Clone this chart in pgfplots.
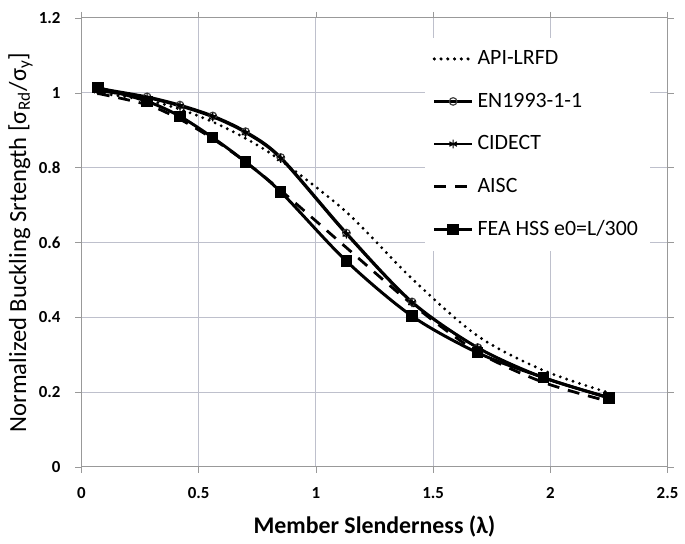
\documentclass[border=0pt]{standalone}
\usepackage{pgfplots}
\pgfplotsset{compat=1.18}
\usepackage{fontspec}
\setmainfont{Carlito}
\definecolor{gridc}{RGB}{190,192,204}
\begin{document}
\begin{tikzpicture}
\begin{axis}[
  scale only axis,
  width=295pt, height=226pt,
  xmin=0, xmax=2.5, ymin=0, ymax=1.2,
  xtick={0,0.5,1,1.5,2,2.5},
  ytick={0,0.2,0.4,0.6,0.8,1,1.2},
  grid=major,
  grid style={line width=0.5pt, color=gridc},
  axis line style={black!40, line width=0.5pt},
  tick style={black!40},
  major tick length=3pt,
  tick align=outside,
  /pgf/number format/assume math mode=true,
  ticklabel style={font=\bfseries\fontsize{8.5}{10}\selectfont},
  xticklabel style={yshift=-4pt},
  yticklabel style={xshift=-4pt},
  xlabel={Member Slenderness (λ)},
  ylabel={Normalized Buckling Srtength [σ\textsubscript{Rd}/σ\textsubscript{y}]},
  xlabel style={font=\bfseries\fontsize{12}{14}\selectfont, at={(axis description cs:0.5,-0.132)}, anchor=center},
  ylabel style={font=\fontsize{12.4}{14}\selectfont, at={(axis description cs:-0.104,0.5)}, anchor=center},
  legend style={at={(0.585,0.955)}, anchor=north west, draw=none, fill=white,
    font=\fontsize{11}{13}\selectfont, row sep=8.8pt,
    inner xsep=4pt, inner ysep=4pt},
  legend cell align=left,
  legend image code/.code={\draw[#1] (0pt,0pt) -- (19pt,0pt); \draw[#1, mark repeat=2, mark phase=2] plot coordinates {(0pt,0pt) (9.5pt,0pt) (19pt,0pt)};},
  every axis plot/.append style={smooth, tension=0.5},
]
\addplot[black, line width=1.6pt, line cap=round, dash pattern=on 0pt off 3.4pt, no markers] coordinates {
(0.07,0.999) (0.28,0.980) (0.42,0.956) (0.56,0.922) (0.70,0.878) (0.85,0.819)
(1.13,0.681) (1.41,0.503) (1.69,0.350) (1.97,0.258) (2.25,0.198)};
\addlegendentry{API-LRFD}
\addplot[black, line width=1.4pt, mark=o, mark size=1.9pt, mark options={solid, line width=0.6pt, fill=black!25, draw=black!75}] coordinates {
(0.07,1.012) (0.28,0.989) (0.42,0.967) (0.56,0.938) (0.70,0.896) (0.85,0.827)
(1.13,0.625) (1.41,0.441) (1.69,0.319) (1.97,0.239) (2.25,0.186)};
\addlegendentry{EN1993-1-1}
\addplot[black, line width=1.2pt, mark=asterisk, mark size=2.2pt, mark options={solid, line width=0.6pt}] coordinates {
(0.07,1.005) (0.28,0.986) (0.42,0.964) (0.56,0.935) (0.70,0.893) (0.85,0.824)
(1.13,0.622) (1.41,0.439) (1.69,0.318) (1.97,0.238) (2.25,0.185)};
\addlegendentry{CIDECT}
\addplot[black, line width=1.4pt, dash pattern=on 6pt off 4.5pt, no markers] coordinates {
(0.07,0.998) (0.28,0.968) (0.42,0.929) (0.56,0.877) (0.70,0.815) (0.85,0.739)
(1.13,0.586) (1.41,0.435) (1.69,0.307) (1.97,0.226) (2.25,0.175)};
\addlegendentry{AISC}
\addplot[black, line width=1.5pt, mark=square*, mark size=2.1pt, mark options={solid}] coordinates {
(0.07,1.014) (0.28,0.977) (0.42,0.937) (0.56,0.880) (0.70,0.815) (0.85,0.735)
(1.13,0.550) (1.41,0.403) (1.69,0.305) (1.97,0.239) (2.25,0.184)};
\addlegendentry{FEA HSS e0=L/300}
\end{axis}
\path (-41pt,-37pt) rectangle (301.5pt,235pt);
\end{tikzpicture}
\end{document}
